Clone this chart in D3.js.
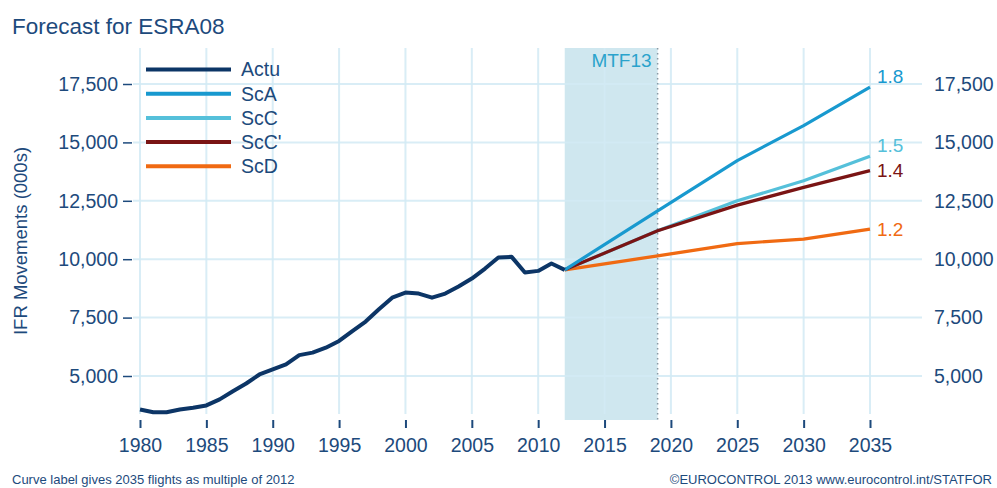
<!DOCTYPE html>
<html>
<head>
<meta charset="utf-8">
<style>
  body { margin: 0; background: #fff; }
  text { font-family: Arial, "Liberation Sans", sans-serif; }
</style>
</head>
<body>
<svg width="997" height="488"></svg>
<script src="https://cdn.jsdelivr.net/npm/d3@7/dist/d3.min.js"></script>
<script>
// actual IFR movements (000s), 1980-2012
var actYears = d3.range(1980, 2013);
var actValues = [3565, 3450, 3450, 3565, 3640, 3740, 4000, 4350, 4680, 5065,
                 5280, 5495, 5895, 6000, 6210, 6500, 6925, 7330, 7855, 8355,
                 8570, 8530, 8355, 8530, 8830, 9170, 9600, 10070, 10100, 9430,
                 9500, 9815, 9545];

// forecast scenarios
var fcYears = [2012, 2019, 2025, 2030, 2035];
var scA = [9545, 12070, 14220, 15720, 17370];
var scC = [9545, 11215, 12500, 13360, 14405];
var scCp = [9545, 11215, 12315, 13075, 13790];
var scD = [9545, 10140, 10670, 10860, 11290];

var seriesNames = ["Actu", "ScA", "ScC", "ScC'", "ScD"];
var endLabels = ["1.8", "1.5", "1.4", "1.2"];
var xTicks = d3.range(1980, 2036, 5);
var yTicks = [5000, 7500, 10000, 12500, 15000, 17500];
var mtfStart = 2012, mtfEnd = 2019;

var navy = "#1d4a7c";
var colors = ["#0c3566", "#1899cf", "#55c0da", "#7a1414", "#f06a12"];

var svg = d3.select("svg");
var plotTop = 48, plotBottom = 420, plotLeft = 133, plotRight = 922;

var x = d3.scaleLinear().domain([1980, 2035]).range([140, 870]);
var y = d3.scaleLinear().domain([5000, 17500]).range([376, 84]);

// MTF13 shaded band
svg.append("rect")
    .attr("x", x(mtfStart)).attr("y", plotTop)
    .attr("width", x(mtfEnd) - x(mtfStart)).attr("height", plotBottom - plotTop)
    .attr("fill", "#cfe7ef");

// grid
svg.append("g").selectAll("line").data(xTicks).enter().append("line")
    .attr("x1", d => x(d)).attr("x2", d => x(d))
    .attr("y1", plotTop).attr("y2", plotBottom - 6)
    .attr("stroke", "#d3ebf5").attr("stroke-width", 2).attr("opacity", 0.85);
svg.append("g").selectAll("line").data(yTicks).enter().append("line")
    .attr("x1", plotLeft).attr("x2", plotRight)
    .attr("y1", d => y(d)).attr("y2", d => y(d))
    .attr("stroke", "#d3ebf5").attr("stroke-width", 2).attr("opacity", 0.85);

// dotted MTF end line + label
svg.append("line")
    .attr("x1", x(mtfEnd)).attr("x2", x(mtfEnd))
    .attr("y1", plotTop).attr("y2", plotBottom)
    .attr("stroke", "#8a9aa4").attr("stroke-width", 1.5)
    .attr("stroke-dasharray", "1.5,3.5");
svg.append("text")
    .attr("x", x(mtfEnd) - 6).attr("y", 67)
    .attr("text-anchor", "end")
    .attr("font-size", 19).attr("fill", "#2aa3cc")
    .text("MTF13");

// axes
var xAxis = svg.append("g")
    .attr("transform", "translate(0," + plotBottom + ")")
    .call(d3.axisBottom(x).tickValues(xTicks).tickFormat(d3.format("d")).tickSize(8).tickPadding(10));
xAxis.select(".domain").remove();
xAxis.selectAll("line").attr("stroke", navy).attr("stroke-width", 2);
xAxis.selectAll("text").attr("font-size", 19.5).attr("fill", navy)
    .attr("font-family", "Arial, 'Liberation Sans', sans-serif");

var yLeft = svg.append("g")
    .attr("transform", "translate(132,0)")
    .call(d3.axisLeft(y).tickValues(yTicks).tickFormat(d3.format(",")).tickSize(9).tickPadding(5));
yLeft.select(".domain").remove();
yLeft.selectAll("line").attr("stroke", navy).attr("stroke-width", 1.5);
yLeft.selectAll("text").attr("font-size", 19.5).attr("fill", navy)
    .attr("font-family", "Arial, 'Liberation Sans', sans-serif");

var yRight = svg.append("g")
    .attr("transform", "translate(922,0)")
    .call(d3.axisRight(y).tickValues(yTicks).tickFormat(d3.format(",")).tickSize(0).tickPadding(12));
yRight.select(".domain").remove();
yRight.selectAll("text").attr("font-size", 19.5).attr("fill", navy)
    .attr("font-family", "Arial, 'Liberation Sans', sans-serif");

// lines
var line = d3.line().x(d => x(d[0])).y(d => y(d[1]));
var fcSeries = [scA, scC, scCp, scD];
// lowest first so the upper scenarios sit on top
[3, 1, 2, 0].forEach(function(i) {
  svg.append("path")
      .datum(fcYears.map((yr, j) => [yr, fcSeries[i][j]]))
      .attr("d", line)
      .attr("fill", "none")
      .attr("stroke", colors[i + 1])
      .attr("stroke-width", 3.2)
      .attr("stroke-linejoin", "round");
});
svg.append("path")
    .datum(actYears.map((yr, j) => [yr, actValues[j]]))
    .attr("d", line)
    .attr("fill", "none")
    .attr("stroke", colors[0])
    .attr("stroke-width", 4)
    .attr("stroke-linejoin", "round");

// end labels
var labelDy = [-11, -11, 0, 0];
endLabels.forEach(function(t, i) {
  var s = fcSeries[i];
  svg.append("text")
      .attr("x", x(2035) + 7)
      .attr("y", y(s[s.length - 1]) + labelDy[i])
      .attr("dy", "0.35em")
      .attr("font-size", 19).attr("fill", colors[i + 1])
      .text(t);
});

// legend
var legend = svg.append("g").selectAll("g").data(seriesNames).enter().append("g")
    .attr("transform", (d, i) => "translate(146," + (69.5 + i * 24.2) + ")");
legend.append("line")
    .attr("x1", 0).attr("x2", 85)
    .attr("stroke", (d, i) => colors[i]).attr("stroke-width", 4);
legend.append("text")
    .attr("x", 95).attr("dy", "0.35em")
    .attr("font-size", 19.5).attr("fill", navy)
    .text(d => d);

// titles
svg.append("text")
    .attr("x", 12).attr("y", 34)
    .attr("font-size", 22.5).attr("fill", navy)
    .text("Forecast for ESRA08");

svg.append("text")
    .attr("transform", "translate(27,241) rotate(-90)")
    .attr("text-anchor", "middle")
    .attr("font-size", 18.5).attr("fill", navy)
    .text("IFR Movements (000s)");

svg.append("text")
    .attr("x", 12).attr("y", 484)
    .attr("font-size", 13).attr("fill", navy)
    .text("Curve label gives 2035 flights as multiple of 2012");

svg.append("text")
    .attr("x", 992).attr("y", 484)
    .attr("text-anchor", "end")
    .attr("font-size", 13).attr("fill", navy)
    .text("©EUROCONTROL 2013 www.eurocontrol.int/STATFOR");
</script>
</body>
</html>
